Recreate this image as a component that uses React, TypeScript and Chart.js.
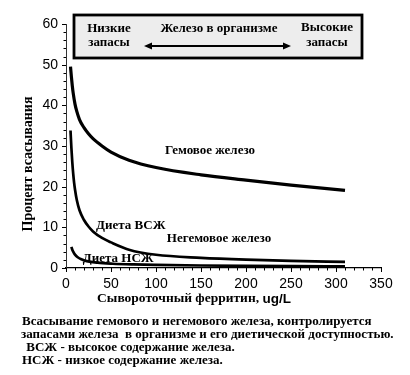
import React, { useEffect, useRef } from "react";
import { Chart, registerables } from "chart.js";

Chart.register(...registerables);

// Data
const hemeX = [5, 6, 7, 8, 10, 12, 15, 20, 25, 30, 40, 50, 70, 100, 150, 200, 250, 310];
const hemeY = [49.5, 47, 44.8, 43, 40.3, 38.5, 36.5, 34.5, 33, 31.8, 30, 28.5, 26.5, 24.7, 22.9, 21.6, 20.4, 19.1];

const highX = [5, 6, 7, 8, 9, 10, 12, 15, 20, 25, 30, 40, 50, 70, 100, 150, 200, 250, 310];
const highY = [33.8, 29.5, 26, 23.2, 21, 19.3, 16.7, 14.2, 11.8, 10.2, 9.0, 7.4, 6.3, 4.5, 3.25, 2.5, 2.05, 1.75, 1.5];

const lowX = [6, 7, 8, 10, 13, 17, 23, 35, 52, 75, 100, 150, 200, 250, 310];
const lowY = [5.2, 4.5, 4.0, 3.3, 2.65, 2.15, 1.7, 1.3, 1.05, 0.88, 0.77, 0.62, 0.52, 0.45, 0.4];

const xTicks = [0, 50, 100, 150, 200, 250, 300, 350];
const yTicks = [0, 10, 20, 30, 40, 50, 60];

const curveLabels = [
  { text: "Гемовое железо", x: 160, y: 28.8 },
  { text: "Диета ВСЖ", x: 72, y: 10.3 },
  { text: "Негемовое железо", x: 170, y: 7.1 },
  { text: "Диета НСЖ", x: 58, y: 2.4 },
];

const boxLeft = ["Низкие", "запасы"];
const boxCenter = "Железо в организме";
const boxRight = ["Высокие", "запасы"];

const yTitle = "Процент всасывания";
const xTitleMain = "Сывороточный ферритин, ";
const xTitleUnit = "ug/L";

const captionLines = [
  "Всасывание гемового и негемового железа, контролируется",
  "запасами железа  в организме и его диетической доступностью.",
  " ВСЖ - высокое содержание железа.",
  "НСЖ - низкое содержание железа.",
];

const pts = (xs: number[], ys: number[]) => xs.map((x, i) => ({ x, y: ys[i] }));

const SERIF = "'Liberation Serif', 'Times New Roman', serif";
const SANS = "'Liberation Sans', Arial, sans-serif";

const decorPlugin = {
  id: "decor",
  afterDraw(chart: any) {
    const ctx = chart.ctx as CanvasRenderingContext2D;
    const xs = chart.scales.x;
    const ys = chart.scales.y;
    const ca = chart.chartArea;
    ctx.save();

    // ticks (outside)
    ctx.strokeStyle = "#000";
    ctx.lineWidth = 1;
    ctx.beginPath();
    for (let v = 0; v <= 350; v += 10) {
      const px = Math.round(xs.getPixelForValue(v)) + 0.5;
      const major = v % 50 === 0;
      ctx.moveTo(px, ca.bottom);
      ctx.lineTo(px, ca.bottom + (major ? 4 : 2.5));
    }
    for (let v = 0; v <= 60; v += 2) {
      const py = Math.round(ys.getPixelForValue(v)) + 0.5;
      const major = v % 10 === 0;
      ctx.moveTo(ca.left, py);
      ctx.lineTo(ca.left - (major ? 4 : 2.5), py);
    }
    ctx.stroke();

    // curve labels
    ctx.fillStyle = "#000";
    ctx.font = `bold 13px ${SERIF}`;
    ctx.textAlign = "center";
    ctx.textBaseline = "middle";
    curveLabels.forEach((l) => {
      ctx.fillText(l.text, xs.getPixelForValue(l.x), ys.getPixelForValue(l.y));
    });

    // box
    const bx = 74, by = 15, bw = 288, bh = 43;
    ctx.fillStyle = "#ededed";
    ctx.fillRect(bx, by, bw, bh);
    ctx.lineWidth = 2.8;
    ctx.strokeStyle = "#000";
    ctx.strokeRect(bx, by, bw, bh);
    ctx.fillStyle = "#000";
    ctx.font = `bold 13px ${SERIF}`;
    ctx.textAlign = "center";
    ctx.fillText(boxLeft[0], 109, 29);
    ctx.fillText(boxLeft[1], 109, 43);
    ctx.fillText(boxCenter, 219, 29);
    ctx.fillText(boxRight[0], 327, 28);
    ctx.fillText(boxRight[1], 327, 43);
    // arrow
    const ax1 = 144, ax2 = 291, ay = 46;
    ctx.lineWidth = 2;
    ctx.beginPath();
    ctx.moveTo(ax1 + 5, ay);
    ctx.lineTo(ax2 - 5, ay);
    ctx.stroke();
    ctx.beginPath();
    ctx.moveTo(ax1, ay);
    ctx.lineTo(ax1 + 8, ay - 3.5);
    ctx.lineTo(ax1 + 8, ay + 3.5);
    ctx.closePath();
    ctx.moveTo(ax2, ay);
    ctx.lineTo(ax2 - 8, ay - 3.5);
    ctx.lineTo(ax2 - 8, ay + 3.5);
    ctx.closePath();
    ctx.fill();

    // y title
    ctx.save();
    ctx.translate(28, 164);
    ctx.rotate(-Math.PI / 2);
    ctx.font = `bold 14px ${SERIF}`;
    ctx.textAlign = "center";
    ctx.fillText(yTitle, 0, 0);
    ctx.restore();

    // x title
    ctx.textAlign = "left";
    ctx.font = `bold 13.5px ${SERIF}`;
    const w1 = ctx.measureText(xTitleMain).width;
    ctx.font = `bold 13.5px ${SANS}`;
    const w2 = ctx.measureText(xTitleUnit).width;
    const sx = 194 - (w1 + w2) / 2;
    ctx.font = `bold 13.5px ${SERIF}`;
    ctx.fillText(xTitleMain, sx, 299);
    ctx.font = `bold 13.5px ${SANS}`;
    ctx.fillText(xTitleUnit, sx + w1, 299);

    // caption
    ctx.font = `bold 13px ${SERIF}`;
    ctx.fillText(captionLines[0], 22, 322);
    ctx.fillText(captionLines[1], 21, 335);
    ctx.fillText(captionLines[2], 23, 348);
    ctx.fillText(captionLines[3], 22, 361);

    ctx.restore();
  },
};

export default function App() {
  const ref = useRef<HTMLCanvasElement>(null);
  useEffect(() => {
    if (!ref.current) return;
    const common = { borderColor: "#000", pointRadius: 0, cubicInterpolationMode: "monotone", fill: false };
    const chart = new Chart(ref.current, {
      type: "line",
      data: {
        datasets: [
          { data: pts(hemeX, hemeY), borderWidth: 3.2, ...common },
          { data: pts(highX, highY), borderWidth: 2.7, ...common },
          { data: pts(lowX, lowY), borderWidth: 2.7, ...common },
        ],
      },
      options: {
        responsive: false,
        animation: false,
        layout: { padding: { top: 24, right: 29, left: 0, bottom: 0 } },
        plugins: { legend: { display: false }, tooltip: { enabled: false }, title: { display: false } },
        scales: {
          x: {
            type: "linear",
            min: 0,
            max: 350,
            afterBuildTicks: (s: any) => { s.ticks = xTicks.map((v) => ({ value: v })); },
            afterFit: (s: any) => { s.height = 107; },
            ticks: { color: "#000", font: { family: SANS, size: 14 }, padding: 8, maxRotation: 0 },
            grid: { display: false, drawTicks: false },
            border: { display: true, color: "#000", width: 1.3 },
          },
          y: {
            type: "linear",
            min: 0,
            max: 60,
            afterBuildTicks: (s: any) => { s.ticks = yTicks.map((v) => ({ value: v })); },
            afterFit: (s: any) => { s.width = 66; },
            ticks: { color: "#000", font: { family: SANS, size: 14 }, padding: 8 },
            grid: { display: false, drawTicks: false },
            border: { display: true, color: "#333", width: 1 },
          },
        },
      },
      plugins: [decorPlugin],
    } as any);
    return () => chart.destroy();
  }, []);
  return (
    <div style={{ position: "fixed", left: 0, top: 0, width: 410, height: 375, background: "#fff" }}>
      <canvas ref={ref} width={410} height={375} style={{ display: "block" }} />
    </div>
  );
}
